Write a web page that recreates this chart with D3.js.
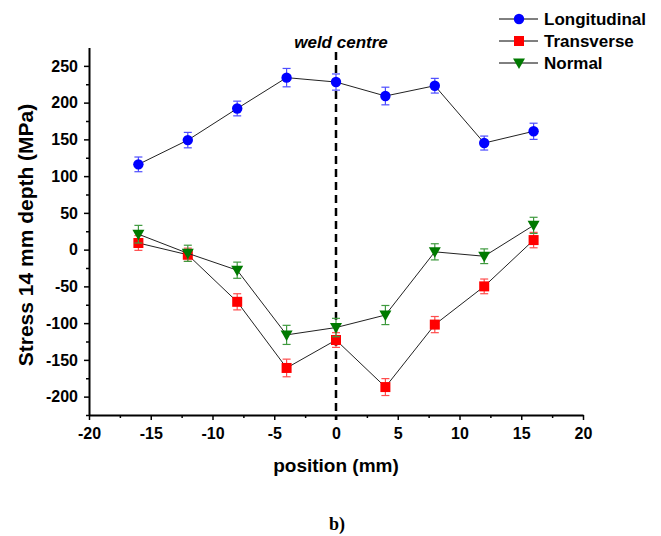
<!DOCTYPE html>
<html>
<head>
<meta charset="utf-8">
<script src="https://cdn.jsdelivr.net/npm/d3@7"></script>
<style>
  body { margin: 0; background: #fff; }
  svg text { font-family: "Liberation Sans", Arial, sans-serif; font-weight: bold; }
</style>
</head>
<body>
<div id="chart"></div>
<script>
// positions along the weld (mm)
const positions = [-16, -12, -8, -4, 0, 4, 8, 12, 16];

// stress values (MPa)
const longitudinal = [116, 149, 192, 234, 228, 209, 223, 145, 161];
const longitudinalErr = [10, 10.5, 10, 12.5, 11, 12, 10, 9.5, 11];

const transverse = [9, -7, -71, -161, -123, -187, -102, -50, 13];
const transverseErr = [10, 9, 11, 12, 10, 11.5, 11, 10, 10.5];

const normal = [21, -5, -28, -116, -106, -89, -3, -9, 33];
const normalErr = [12, 11, 11, 13, 12.5, 13, 11, 10, 11];

const xTicks = [-20, -15, -10, -5, 0, 5, 10, 15, 20];
const yTicks = [-200, -150, -100, -50, 0, 50, 100, 150, 200, 250];

const series = [
    {name: 'Longitudinal', values: longitudinal, err: longitudinalErr, color: '#0000ff', errColor: '#4d4dff', shape: 'circle'},
    {name: 'Transverse', values: transverse, err: transverseErr, color: '#ff0000', errColor: '#ff4d4d', shape: 'square'},
    {name: 'Normal', values: normal, err: normalErr, color: '#007a00', errColor: '#3f9a3f', shape: 'triangle'}
];

const W = 661, H = 536;
const svg = d3.select('#chart').append('svg')
    .attr('width', W)
    .attr('height', H);

const x = d3.scaleLinear().domain([-20, 20]).range([89, 583]);
const y = d3.scaleLinear().domain([-225, 275]).range([415, 47.5]);

// minor ticks
svg.append('g')
    .attr('transform', `translate(0,${y(-225)})`)
    .call(d3.axisBottom(x).tickValues(d3.range(-17.5, 20, 5)).tickSize(3).tickFormat(''))
    .call(g => g.select('.domain').remove())
    .call(g => g.selectAll('line').attr('stroke-width', 1.5));

svg.append('g')
    .attr('transform', `translate(${x(-20)},0)`)
    .call(d3.axisLeft(y).tickValues(d3.range(-225, 275, 50)).tickSize(3).tickFormat(''))
    .call(g => g.select('.domain').remove())
    .call(g => g.selectAll('line').attr('stroke-width', 1.5));

// major axes
const xAxis = svg.append('g')
    .attr('transform', `translate(0,${y(-225)})`)
    .call(d3.axisBottom(x).tickValues(xTicks).tickSize(5).tickSizeOuter(0).tickPadding(8)
        .tickFormat(d => String(d)));
xAxis.select('.domain').attr('stroke-width', 2);
xAxis.selectAll('line').attr('stroke-width', 1.5);
xAxis.selectAll('text').style('font-size', '16px').attr('fill', '#000');

const yAxis = svg.append('g')
    .attr('transform', `translate(${x(-20)},0)`)
    .call(d3.axisLeft(y).tickValues(yTicks).tickSize(5).tickSizeOuter(0).tickPadding(6)
        .tickFormat(d => String(d)));
yAxis.select('.domain').attr('stroke-width', 2);
yAxis.selectAll('line').attr('stroke-width', 1.5);
yAxis.selectAll('text').style('font-size', '16px').attr('fill', '#000');

// axis titles
svg.append('text')
    .attr('x', x(0))
    .attr('y', 472)
    .attr('text-anchor', 'middle')
    .style('font-size', '19px')
    .text('position (mm)');

svg.append('text')
    .attr('transform', `translate(33,235) rotate(-90)`)
    .attr('text-anchor', 'middle')
    .style('font-size', '21px')
    .text('Stress 14 mm depth (MPa)');

// weld centre line
svg.append('line')
    .attr('x1', x(0)).attr('x2', x(0))
    .attr('y1', 52).attr('y2', 420)
    .attr('stroke', '#000')
    .attr('stroke-width', 2.5)
    .attr('stroke-dasharray', '8,5');

svg.append('text')
    .attr('x', x(0) + 5)
    .attr('y', 48)
    .attr('text-anchor', 'middle')
    .style('font-size', '17px')
    .style('font-style', 'italic')
    .text('weld centre');

function drawMarker(g, shape, color, cx, cy) {
    if (shape === 'circle') {
        g.append('circle').attr('cx', cx).attr('cy', cy).attr('r', 5.2).attr('fill', color);
    } else if (shape === 'square') {
        g.append('rect').attr('x', cx - 5).attr('y', cy - 5).attr('width', 10).attr('height', 10).attr('fill', color);
    } else {
        g.append('path')
            .attr('d', `M${cx - 6},${cy - 4.5}L${cx + 6},${cy - 4.5}L${cx},${cy + 6}Z`)
            .attr('fill', color);
    }
}

const line = d3.line().x(d => x(d[0])).y(d => y(d[1]));

series.forEach(s => {
    const pts = positions.map((p, i) => [p, s.values[i], s.err[i]]);
    const g = svg.append('g');

    g.append('path')
        .datum(pts)
        .attr('d', line)
        .attr('fill', 'none')
        .attr('stroke', '#222')
        .attr('stroke-width', 1);

    pts.forEach(d => {
        const cx = x(d[0]);
        g.append('line')
            .attr('x1', cx).attr('x2', cx)
            .attr('y1', y(d[1] + d[2])).attr('y2', y(d[1] - d[2]))
            .attr('stroke', s.errColor).attr('stroke-width', 1.2);
        [d[1] + d[2], d[1] - d[2]].forEach(v => {
            g.append('line')
                .attr('x1', cx - 4).attr('x2', cx + 4)
                .attr('y1', y(v)).attr('y2', y(v))
                .attr('stroke', s.errColor).attr('stroke-width', 1.2);
        });
        drawMarker(g, s.shape, s.color, cx, y(d[1]));
    });
});

// legend
const legend = svg.append('g');
series.forEach((s, i) => {
    const ly = 19 + i * 22;
    legend.append('line')
        .attr('x1', 499).attr('x2', 538)
        .attr('y1', ly).attr('y2', ly)
        .attr('stroke', '#000').attr('stroke-width', 1);
    drawMarker(legend, s.shape, s.color, 519, ly);
    legend.append('text')
        .attr('x', 544)
        .attr('y', ly + 6)
        .style('font-size', '17px')
        .text(s.name);
});

// panel label
svg.append('text')
    .attr('x', 337)
    .attr('y', 530)
    .attr('text-anchor', 'middle')
    .style('font-family', '"Liberation Serif", "Times New Roman", serif')
    .style('font-size', '18px')
    .text('b)');
</script>
</body>
</html>
